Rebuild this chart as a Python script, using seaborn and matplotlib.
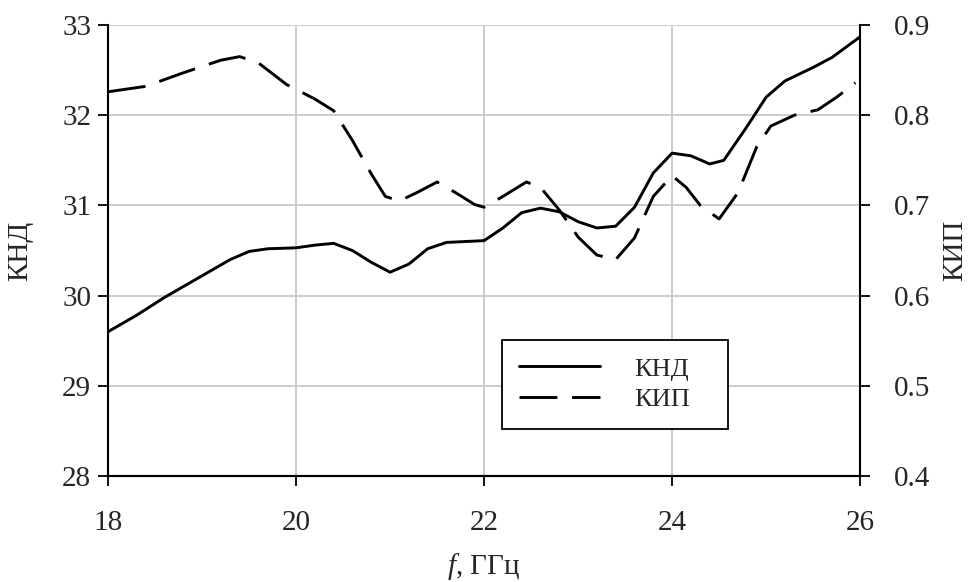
import matplotlib
matplotlib.use("Agg")
import matplotlib.pyplot as plt
import seaborn as sns
import pandas as pd

# Directivity (КНД) versus frequency, GHz
f_knd = [18.0, 18.3, 18.6, 19.0, 19.3, 19.5, 19.7, 20.0, 20.2, 20.4, 20.6, 20.8,
         21.0, 21.2, 21.4, 21.6, 21.8, 22.0, 22.2, 22.4, 22.6, 22.8, 23.0, 23.2,
         23.4, 23.6, 23.8, 24.0, 24.2, 24.4, 24.55, 24.8, 25.0, 25.2, 25.5, 25.7, 26.0]
knd = [29.6, 29.78, 29.98, 30.22, 30.4, 30.49, 30.52, 30.53, 30.56, 30.58, 30.5, 30.37,
       30.26, 30.35, 30.52, 30.59, 30.6, 30.61, 30.75, 30.92, 30.97, 30.93, 30.82, 30.75,
       30.77, 30.98, 31.36, 31.58, 31.55, 31.46, 31.5, 31.88, 32.2, 32.38, 32.53, 32.64, 32.87]

# Aperture efficiency (КИП) versus frequency, GHz
f_kip = [18.0, 18.4, 18.8, 19.2, 19.4, 19.6, 19.9, 20.2, 20.4, 20.6, 20.8, 20.95,
         21.1, 21.3, 21.5, 21.7, 21.9, 22.0, 22.2, 22.45, 22.6, 22.8, 23.0, 23.2,
         23.4, 23.6, 23.8, 24.0, 24.15, 24.3, 24.5, 24.7, 24.9, 25.05, 25.3, 25.55,
         25.75, 25.95]
kip = [0.826, 0.832, 0.847, 0.861, 0.865, 0.858, 0.834, 0.818, 0.805, 0.772, 0.735, 0.71,
       0.705, 0.715, 0.726, 0.714, 0.701, 0.698, 0.71, 0.726, 0.72, 0.695, 0.665, 0.645,
       0.64, 0.664, 0.71, 0.733, 0.72, 0.70, 0.685, 0.714, 0.765, 0.788, 0.80, 0.806,
       0.82, 0.836]

x_ticks = [18, 20, 22, 24, 26]
left_ticks = [28, 29, 30, 31, 32, 33]
right_ticks = [0.4, 0.5, 0.6, 0.7, 0.8, 0.9]

sns.set_theme(style="white")
plt.rcParams["font.family"] = ["Liberation Serif", "DejaVu Serif"]
plt.rcParams["mathtext.fontset"] = "custom"
plt.rcParams["mathtext.it"] = "Liberation Serif:italic"
plt.rcParams["mathtext.rm"] = "Liberation Serif"

FS = 21

fig = plt.figure(figsize=(9.73, 5.82), dpi=100)
ax = fig.add_axes([0.111, 0.182, 0.773, 0.775])
ax2 = ax.twinx()

df_knd = pd.DataFrame({"f": f_knd, "v": knd})
df_kip = pd.DataFrame({"f": f_kip, "v": kip})

sns.lineplot(data=df_knd, x="f", y="v", ax=ax, color="black", linewidth=2.1,
             legend=False)
sns.lineplot(data=df_kip, x="f", y="v", ax=ax2, color="black", linewidth=2.1,
             legend=False)
ax2.lines[0].set_dashes((13, 5))

ax.set_xlim(18, 26)
ax.set_ylim(28, 33)
ax2.set_ylim(0.4, 0.9)
ax.set_xticks(x_ticks)
ax.set_yticks(left_ticks)
ax2.set_yticks(right_ticks)
ax.set_xticklabels([str(t) for t in x_ticks])
ax.set_yticklabels([str(t) for t in left_ticks])
ax2.set_yticklabels([f"{t:.1f}" for t in right_ticks])

ax.grid(True, color="#c8c8c8", linewidth=1.3)
ax2.grid(False)

for a in (ax, ax2):
    a.spines["top"].set_visible(False)
    a.spines["bottom"].set_color("black")
    a.spines["bottom"].set_linewidth(1.5)
ax.spines["right"].set_visible(False)
ax.spines["left"].set_color("black")
ax.spines["left"].set_linewidth(1.5)
ax2.spines["left"].set_visible(False)
ax2.spines["right"].set_color("black")
ax2.spines["right"].set_linewidth(1.5)

ax.tick_params(axis="x", direction="out", length=7.5, width=1.3, color="black",
               labelsize=FS, pad=17, bottom=True)
ax.tick_params(axis="y", direction="out", length=7, width=1.3, color="black",
               labelsize=FS, pad=5, left=True)
ax2.tick_params(axis="y", direction="out", length=7, width=1.3, color="black",
                labelsize=FS, pad=17, right=True)

ax.set_xlabel("$f$, ГГц", fontsize=FS, labelpad=11)
ax.set_ylabel("КНД", fontsize=FS, labelpad=21)
ax2.set_ylabel("КИП", fontsize=FS, labelpad=9)

handles = [ax.lines[0], ax2.lines[0]]
leg = ax.legend(handles, ["КНД", "КИП"], loc="upper left",
                bbox_to_anchor=(0.524, 0.111, 0.3005, 0.1907), mode="expand",
                frameon=True, fancybox=False, edgecolor="black", framealpha=1,
                fontsize=19, handlelength=3.07, handletextpad=1.29,
                borderpad=0.65, labelspacing=0.28, borderaxespad=0)
leg.get_frame().set_linewidth(1.3)
leg.set_zorder(5)

fig.savefig("out.png", dpi=100)
